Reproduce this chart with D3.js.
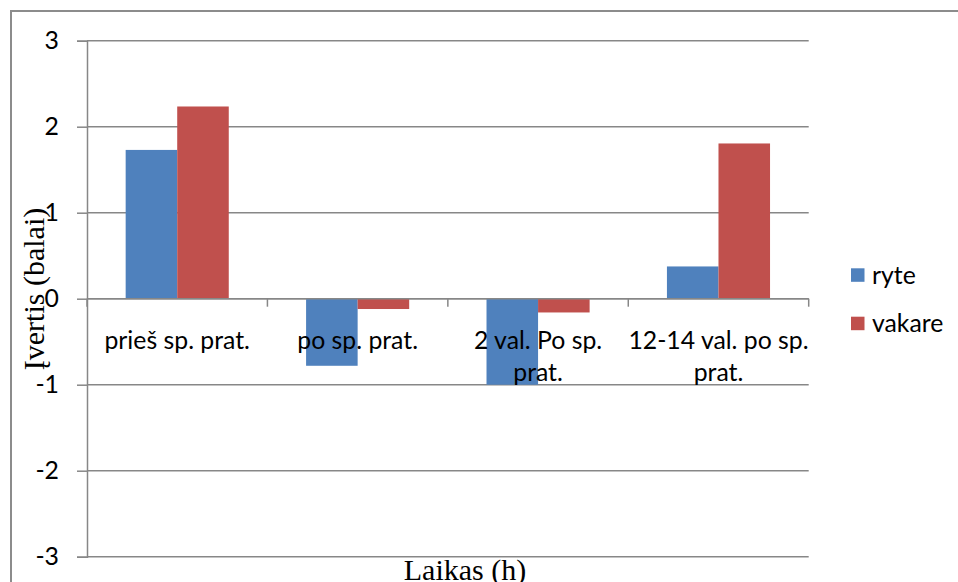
<!DOCTYPE html>
<html>
<head>
<meta charset="utf-8">
<script src="https://cdn.jsdelivr.net/npm/d3@7"></script>
<style>
  html, body { margin: 0; padding: 0; background: #fff; }
  svg { display: block; }
</style>
</head>
<body>
<svg id="chart" width="958" height="582"></svg>
<script>
// Scores per measurement time, morning vs evening
const categories = ["prieš sp. prat.", "po sp. prat.", "2 val. Po sp. prat.", "12-14 val. po sp. prat."];
const seriesNames = ["ryte", "vakare"];
const ryte = [1.73, -0.78, -1.0, 0.375];
const vakare = [2.235, -0.12, -0.16, 1.805];
const yTicks = [-3, -2, -1, 0, 1, 2, 3];
const yTitle = "Įvertis (balai)";
const xTitle = "Laikas (h)";

const colors = { ryte: "#4F81BD", vakare: "#C0504D" };
const gridColor = "#878787";
const labelFont = "Lato, 'Open Sans', sans-serif";
const labelSize = 24.8;
const titleFont = "'Liberation Serif', 'DejaVu Serif', serif";

const svg = d3.select("#chart");

// Plot area
const plot = { left: 87, right: 808.7, top: 40.7, bottom: 556.7 };

const x = d3.scaleBand().domain(categories).range([plot.left, plot.right]).padding(0);
const xInner = d3.scaleBand().domain(seriesNames).range([0, x.bandwidth()])
  .paddingInner(0).paddingOuter(0.75);
const y = d3.scaleLinear().domain([-3, 3]).range([plot.bottom, plot.top]);

// Outer chart frame (top and left edges visible)
svg.append("path")
  .attr("d", `M11,582 L11,11 L958,11`)
  .attr("fill", "none")
  .attr("stroke", "#8c8c8c")
  .attr("stroke-width", 2);

// Horizontal gridlines
svg.append("g")
  .selectAll("line")
  .data(yTicks)
  .join("line")
  .attr("x1", plot.left)
  .attr("x2", plot.right)
  .attr("y1", d => y(d))
  .attr("y2", d => y(d))
  .attr("stroke", gridColor)
  .attr("stroke-width", 1.5);

// Y axis
const yAxis = d3.axisLeft(y).tickValues(yTicks).tickSize(10).tickPadding(18)
  .tickFormat(d3.format("d"));
const gy = svg.append("g").attr("transform", `translate(${plot.left},0)`).call(yAxis);
gy.select(".domain").attr("stroke", gridColor).attr("stroke-width", 1.5);
gy.selectAll(".tick line").attr("stroke", gridColor).attr("stroke-width", 1.5);
gy.selectAll(".tick text")
  .attr("font-family", labelFont)
  .attr("font-size", labelSize)
  .attr("fill", "#000")
  .text(d => d < 0 ? "-" + Math.abs(d) : d);

// Bars
const series = [
  { name: "ryte", values: ryte },
  { name: "vakare", values: vakare }
];
const barG = svg.append("g");
series.forEach(s => {
  barG.append("g")
    .selectAll("rect")
    .data(categories.map((c, i) => ({ c, v: s.values[i] })))
    .join("rect")
    .attr("x", d => x(d.c) + xInner(s.name))
    .attr("width", xInner.bandwidth())
    .attr("y", d => y(Math.max(0, d.v)))
    .attr("height", d => Math.abs(y(d.v) - y(0)))
    .attr("fill", colors[s.name]);
});

// Category axis along zero, ticks between categories
const boundaries = categories.map(c => x(c)).concat([plot.right]);
const gx = svg.append("g");
gx.append("line")
  .attr("x1", plot.left).attr("x2", plot.right)
  .attr("y1", y(0)).attr("y2", y(0))
  .attr("stroke", gridColor).attr("stroke-width", 1.5);
gx.selectAll("line.tk")
  .data(boundaries)
  .join("line")
  .attr("class", "tk")
  .attr("x1", d => d).attr("x2", d => d)
  .attr("y1", y(0)).attr("y2", y(0) + 8)
  .attr("stroke", gridColor).attr("stroke-width", 1.5);

// Category labels, wrapped to the band width
function wrapLines(text, maxW, measure) {
  const words = text.split(" ");
  const lines = [];
  let cur = "";
  words.forEach(w => {
    const test = cur ? cur + " " + w : w;
    if (cur && measure(test) > maxW) { lines.push(cur); cur = w; }
    else cur = test;
  });
  if (cur) lines.push(cur);
  return lines;
}
const measurer = svg.append("text")
  .attr("font-family", labelFont).attr("font-size", labelSize).attr("visibility", "hidden");
const measure = t => { measurer.text(t); return measurer.node().getComputedTextLength(); };

categories.forEach(c => {
  const lines = wrapLines(c, x.bandwidth(), measure);
  const t = gx.append("text")
    .attr("text-anchor", "middle")
    .attr("font-family", labelFont)
    .attr("font-size", labelSize)
    .attr("fill", "#000");
  lines.forEach((ln, i) => {
    t.append("tspan")
      .attr("x", x(c) + x.bandwidth() / 2)
      .attr("y", y(0) + 50 + i * 32)
      .text(ln);
  });
});
measurer.remove();

// Axis titles
svg.append("text")
  .attr("transform", "translate(44,289) rotate(-90)")
  .attr("text-anchor", "middle")
  .attr("font-family", titleFont)
  .attr("font-size", 30)
  .attr("fill", "#000")
  .text(yTitle);

svg.append("text")
  .attr("x", 465)
  .attr("y", 580)
  .attr("text-anchor", "middle")
  .attr("font-family", titleFont)
  .attr("font-size", 30)
  .attr("fill", "#000")
  .text(xTitle);

// Legend
const legend = svg.append("g");
seriesNames.forEach((name, i) => {
  const ly = 268.3 + i * 48.4;
  legend.append("rect")
    .attr("x", 851).attr("y", ly)
    .attr("width", 13.5).attr("height", 13.5)
    .attr("fill", colors[name]);
  legend.append("text")
    .attr("x", 872)
    .attr("y", ly + 6.75)
    .attr("dy", "0.35em")
    .attr("font-family", labelFont)
    .attr("font-size", labelSize)
    .attr("fill", "#000")
    .text(name);
});
</script>
</body>
</html>
